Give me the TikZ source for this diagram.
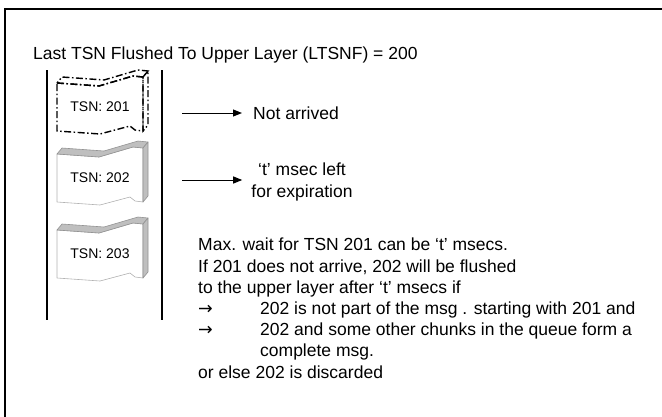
\documentclass[tikz,border=0pt]{standalone}
\usepackage{fontspec}
\setmainfont{Liberation Sans}
\newfontfamily\arrowfont{DejaVu Sans}
\usetikzlibrary{arrows.meta,positioning}

\begin{document}
\begin{tikzpicture}[x=1pt, y=-1pt,
  txt/.style={font=\fontsize{17.5}{21.2}\selectfont, inner sep=0pt, align=left},
  tsn/.style={font=\fontsize{14}{16}\selectfont, inner sep=0pt},
  rail/.style={line width=2pt},
  frame/.style={line width=2.5pt},
  arr/.style={-{Triangle[length=9pt,width=7pt]}, line width=1pt},
  band/.style={draw=gray!85, fill=gray!50, line width=0.6pt, line join=round},
  face/.style={draw=gray!60, fill=white, line width=0.6pt, line join=round},
  lost/.style={draw=black, fill=none, line width=1.4pt,
    dash pattern=on 7pt off 2.5pt on 1.5pt off 2.5pt},
  pics/chunk/.style={code={
    \path[face] (0,0) -- (42,3) -- (76,-7) -- (86,-6) -- (86,48) -- (78,47)
      -- (73,43) -- (43,51) -- (0,48) -- cycle;
    \path[band] (0,0) -- (42,3) -- (76,-7) -- (86,-6) -- (91,-12) -- (81,-13)
      -- (47,-3) -- (5,-6) -- cycle;
    \path[band] (86,-6) -- (91,-12) -- (91,42) -- (86,48) -- cycle;
  }}
]
  \useasboundingbox (0,0) rectangle (662,416);
  \draw[frame] (5,9) rectangle (700,440);

  \node[txt, anchor=base west] (title) at (33,59) {Last TSN Flushed To Upper Layer (LTSNF) = 200};

  \draw[rail] (47,70) -- (47,320);
  \draw[rail] (162,70) -- (162,320);

  \pic[band/.style=lost, face/.style=lost] at (57,83) {chunk};
  \pic at (57,154) {chunk};
  \pic at (57,230) {chunk};
  \node[tsn] (tsn201) at (100,107) {TSN: 201};
  \node[tsn] (tsn202) at (100,178) {TSN: 202};
  \node[tsn] (tsn203) at (100,254) {TSN: 203};

  \coordinate (a201) at (182,113);
  \coordinate (a202) at (182,180);
  \node[txt, anchor=west] (notarr) at (253,113) {Not arrived};
  \node[txt, align=center] (expire) at (302,182) {‘t’ msec left\\for expiration};
  \draw[arr, shorten >=11pt] (a201) -- (notarr.west);
  \draw[arr, shorten >=9pt] (a202) -- (a202 -| expire.west);

  \node[txt, anchor=north west] (rule) at (198,238) {Max. wait for TSN 201 can be ‘t’ msecs.\\
    If 201 does not arrive, 202 will be flushed\\
    to the upper layer after ‘t’ msecs if\\
    \makebox[62pt][l]{\arrowfont →}202 is not part of the msg . starting with 201 and\\
    \makebox[62pt][l]{\arrowfont →}202 and some other chunks in the queue form a\\
    \hspace*{62pt}complete msg.\\
    or else 202 is discarded};
\end{tikzpicture}
\end{document}
